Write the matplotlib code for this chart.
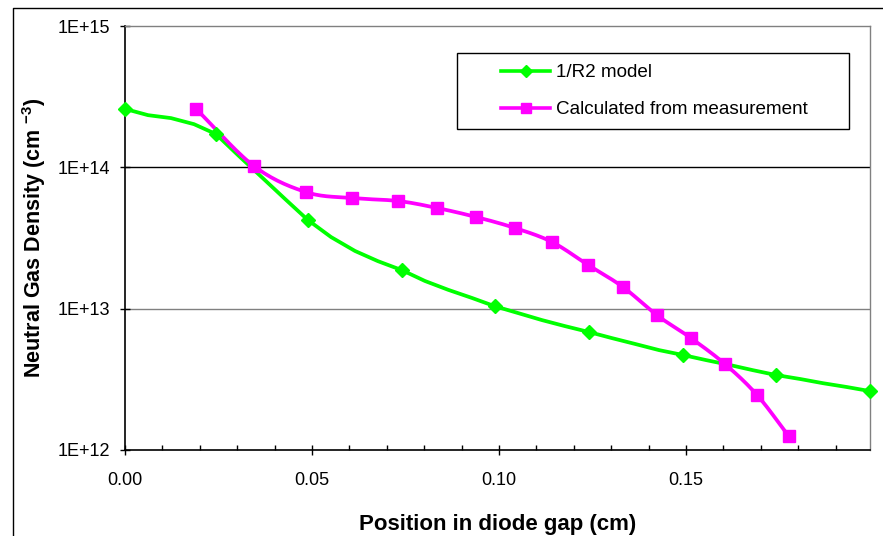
import numpy as np
import matplotlib
matplotlib.use("Agg")
import matplotlib.pyplot as plt
from matplotlib.lines import Line2D
from matplotlib.patches import Rectangle
from matplotlib.ticker import FixedLocator, MultipleLocator, FuncFormatter, NullLocator

plt.rcParams['font.family'] = ['Liberation Sans', 'DejaVu Sans']
plt.rcParams['mathtext.fontset'] = 'custom'
plt.rcParams['mathtext.rm'] = 'Liberation Sans'
plt.rcParams['mathtext.bf'] = 'Liberation Sans:bold'

# ---- data ----
model_x = [0.0, 0.00615, 0.0123, 0.01845, 0.0243, 0.0305, 0.0366, 0.0428, 0.0489,
           0.0551, 0.0615, 0.0676, 0.0741, 0.0802, 0.0864, 0.0928, 0.0989, 0.1051,
           0.1115, 0.1176, 0.1241, 0.1302, 0.1366, 0.1428, 0.1492, 0.1553, 0.1618,
           0.1679, 0.1741, 0.1805, 0.1866, 0.1930, 0.1992]
model_y = [2.59e14, 2.34e14, 2.23e14, 2.02e14, 1.72e14, 1.20e14, 8.5e13, 5.97e13, 4.24e13,
           3.21e13, 2.56e13, 2.17e13, 1.87e13, 1.57e13, 1.36e13, 1.19e13, 1.04e13, 9.31e12,
           8.30e12, 7.53e12, 6.83e12, 6.19e12, 5.61e12, 5.09e12, 4.70e12, 4.33e12, 3.99e12,
           3.67e12, 3.39e12, 3.18e12, 2.97e12, 2.79e12, 2.61e12]

meas_x = [0.0190, 0.0345, 0.0484, 0.0607, 0.0730, 0.0834, 0.0939, 0.1043,
          0.1142, 0.1238, 0.1332, 0.1422, 0.1513, 0.1604, 0.1690, 0.1775]
meas_y = [2.59e14, 1.02e14, 6.68e13, 6.06e13, 5.78e13, 5.16e13, 4.45e13, 3.72e13,
          2.96e13, 2.04e13, 1.42e13, 9.0e12, 6.2e12, 4.06e12, 2.45e12, 1.25e12]

series_labels = ["1/R2 model", "Calculated from measurement"]
y_ticks = [1e12, 1e13, 1e14, 1e15]
y_tick_labels = ["1E+12", "1E+13", "1E+14", "1E+15"]
x_ticks = [0.0, 0.05, 0.10, 0.15]

GREEN = "#00FF00"
MAGENTA = "#FF00FF"


def smooth(xs, ys, n=16, sx=3740.0, sy=141.3):
    """Catmull-Rom smoothing (Excel-like) in approx display space (log y)."""
    u = np.asarray(xs) * sx
    v = np.log10(np.asarray(ys)) * sy
    P = np.column_stack([u, v])
    P = np.vstack([P[0] - (P[1] - P[0]), P, P[-1] + (P[-1] - P[-2])])
    out = []
    for i in range(1, len(P) - 2):
        p0, p1, p2, p3 = P[i - 1], P[i], P[i + 1], P[i + 2]
        t = np.linspace(0, 1, n, endpoint=False)[:, None]
        c = 0.5 * ((2 * p1) + (-p0 + p2) * t + (2 * p0 - 5 * p1 + 4 * p2 - p3) * t ** 2
                   + (-p0 + 3 * p1 - 3 * p2 + p3) * t ** 3)
        out.append(c)
    out.append(P[-2][None, :])
    out = np.vstack(out)
    return out[:, 0] / sx, 10 ** (out[:, 1] / sy)


fig = plt.figure(figsize=(8.83, 5.36), dpi=100)
ax = fig.add_axes([125 / 883, 1 - 450 / 536, 745 / 883, 424 / 536])

ax.set_yscale('log')
ax.set_xlim(0, 0.1992)
ax.set_ylim(1e12, 1e15)

# gridlines
ax.axhline(1e14, color='black', lw=1.0, zorder=1)
ax.axhline(1e13, color='#808080', lw=1.0, zorder=1)

# model series: line + diamonds on every 4th point
ax.plot(model_x, model_y, color=GREEN, lw=2.7, zorder=3, solid_joinstyle='round')
ax.plot(model_x[::4], model_y[::4], ls='none', marker='D', ms=7.5, color=GREEN,
        markeredgecolor=GREEN, zorder=4, clip_on=False)

# measurement series: smoothed line + squares
sx_, sy_ = smooth(meas_x, meas_y)
ax.plot(sx_, sy_, color=MAGENTA, lw=2.7, zorder=3, solid_joinstyle='round')
ax.plot(meas_x, meas_y, ls='none', marker='s', ms=8.2, color=MAGENTA,
        markeredgecolor=MAGENTA, zorder=4, clip_on=False)

# spines
for s in ['top', 'right']:
    ax.spines[s].set_color('#808080')
    ax.spines[s].set_linewidth(1.0)
for s in ['left', 'bottom']:
    ax.spines[s].set_color('black')
    ax.spines[s].set_linewidth(1.2)

# ticks
ax.yaxis.set_major_locator(FixedLocator(y_ticks))
ax.yaxis.set_minor_locator(NullLocator())
ax.set_yticklabels(y_tick_labels)
ax.xaxis.set_major_locator(FixedLocator(x_ticks))
ax.xaxis.set_major_formatter(FuncFormatter(lambda v, p: f"{v:.2f}"))
ax.xaxis.set_minor_locator(MultipleLocator(0.01))
ax.tick_params(axis='both', which='major', direction='inout', length=7, width=1.0,
               labelsize=13, color='black')
ax.tick_params(axis='x', which='major', pad=12)
ax.tick_params(axis='y', which='major', pad=7.5)
ax.tick_params(axis='x', which='minor', direction='in', length=3.5, width=1.0, color='black')

ax.set_xlabel("Position in diode gap (cm)", fontsize=16, fontweight='bold')
ax.xaxis.set_label_coords(0.5, (450 - 514) / 424)
ax.set_ylabel(r"Neutral Gas Density (cm $^{\mathbf{-3}}$)", fontsize=15.5, fontweight='bold')
ax.yaxis.set_label_coords((48 - 125) / 745, 0.5)

# legend
handles = [Line2D([], [], color=GREEN, lw=2.6, marker='D', ms=6.5),
           Line2D([], [], color=MAGENTA, lw=2.6, marker='s', ms=7)]
leg = ax.legend(handles, series_labels, loc='upper left',
                bbox_to_anchor=((501 - 125) / 745, (450 - 64) / 424),
                frameon=False, fontsize=13.6, borderpad=0, borderaxespad=0,
                handlelength=2.6, handletextpad=0.3, labelspacing=1.05)
ax.add_patch(Rectangle(((457 - 125) / 745, (450 - 129) / 424), (849 - 457) / 745, 76 / 424,
                       transform=ax.transAxes, fill=False, edgecolor='black', lw=1.0,
                       zorder=5))

# outer chart frame
fig.add_artist(Line2D([13 / 883, 13 / 883, 1.01], [-0.01, 1 - 8 / 536, 1 - 8 / 536],
                      transform=fig.transFigure, color='black', lw=1.0))

fig.savefig("out.png", dpi=100)
